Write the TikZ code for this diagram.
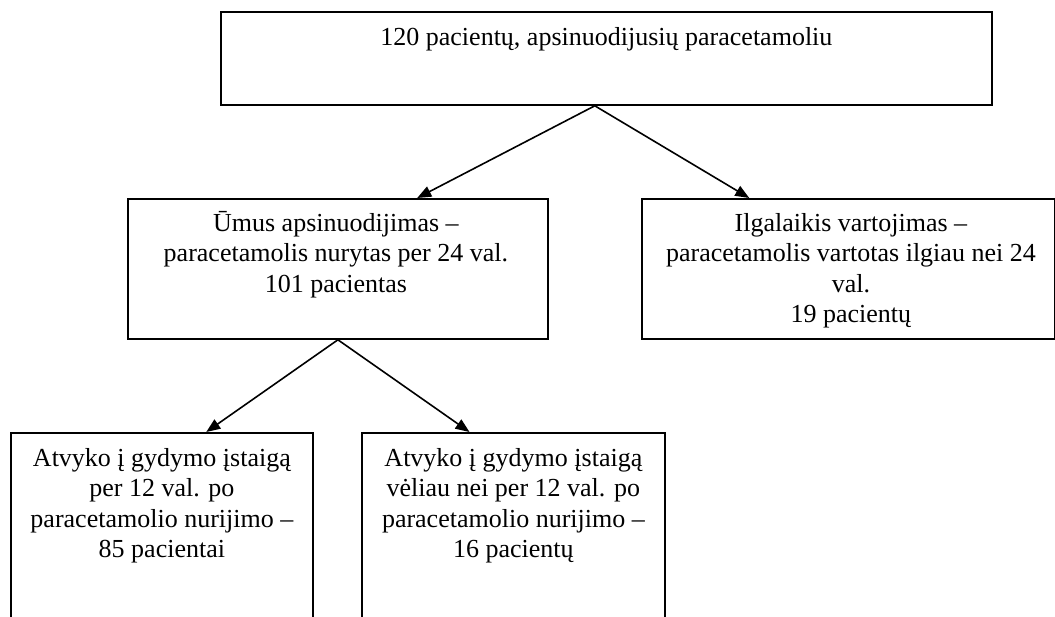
\documentclass[tikz,border=0pt]{standalone}
\usepackage{fontspec}
\setmainfont{Liberation Serif}
\usetikzlibrary{arrows.meta,calc}
\tikzset{
  boxnode/.style={draw=black, line width=1.8pt, rectangle, inner sep=0pt, anchor=north west, fill=white},
  txtnode/.style={anchor=north, inner sep=0pt, align=center, font=\fontsize{26}{30.5}\selectfont},
  arr/.style={line width=1.6pt, -{Triangle[length=14pt,width=11pt]}}
}
\begin{document}
\begin{tikzpicture}[x=1pt,y=-1pt]
\useasboundingbox (0,0) rectangle (1055,617);
\clip (0,0) rectangle (1055,617);
\fill[white] (0,0) rectangle (1055,617);
% boxes
\node[boxnode, minimum width=771pt, minimum height=93pt] (top) at (220,11) {};
\node[boxnode, minimum width=420pt, minimum height=140pt] (lb) at (127,198) {};
\node[boxnode, minimum width=413pt, minimum height=140pt] (rb) at (641,198) {};
\node[boxnode, minimum width=302pt, minimum height=230pt] (bl) at (10,432) {};
\node[boxnode, minimum width=303pt, minimum height=230pt] (bm) at (361,432) {};
% texts
\node[txtnode] (ttop) at ($(top.north)+(0,12.5)$) {\strut 120 pacientų, apsinuodijusių paracetamoliu};
\node[txtnode] (tlb) at ($(lb.north)+(-2,11.5)$) {\strut Ūmus apsinuodijimas –\\ paracetamolis nurytas per 24 val.\\ 101 pacientas};
\node[txtnode] (trb) at ($(rb.north)+(2.5,11.5)$) {\strut Ilgalaikis vartojimas –\\ paracetamolis vartotas ilgiau nei 24\\ val.\\ 19 pacientų};
\node[txtnode] (tbl) at ($(bl.north)+(0,12.5)$) {\strut Atvyko į gydymo įstaigą\\ per 12 val. po\\ paracetamolio nurijimo –\\ 85 pacientai};
\node[txtnode] (tbm) at ($(bm.north)+(0,12.5)$) {\strut Atvyko į gydymo įstaigą\\ vėliau nei per 12 val. po\\ paracetamolio nurijimo –\\ 16 pacientų};
% connectors
\coordinate (a1) at ($(top.south west)!0.485!(top.south east)$);
\coordinate (t1) at ($(lb.north west)!0.688!(lb.north east)$);
\coordinate (t2) at ($(rb.north west)!0.261!(rb.north east)$);
\coordinate (a2) at (lb.south);
\coordinate (t3) at ($(bl.north west)!0.646!(bl.north east)$);
\coordinate (t4) at ($(bm.north west)!0.356!(bm.north east)$);
\draw[arr] (a1) -- (t1);
\draw[arr] (a1) -- (t2);
\draw[arr] (a2) -- (t3);
\draw[arr] (a2) -- (t4);
\end{tikzpicture}
\end{document}
